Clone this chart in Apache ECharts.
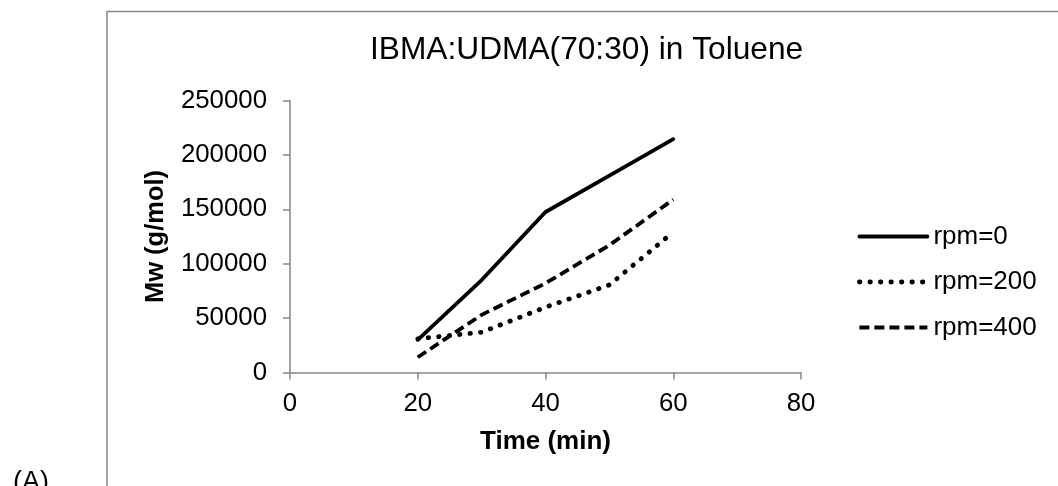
<!DOCTYPE html>
<html>
<head>
<meta charset="utf-8">
<title>IBMA:UDMA(70:30) in Toluene</title>
<script src="https://cdn.jsdelivr.net/npm/echarts@6/dist/echarts.min.js"></script>
<style>
  html, body { margin: 0; padding: 0; background: #ffffff; }
  #chart { width: 1058px; height: 486px; }
</style>
</head>
<body>
<div id="chart"></div>
<script>
// Sampling times (min)
const times = [20, 30, 40, 50, 60];
// Weight-average molecular weight Mw (g/mol) per stirring speed
const rpm0 = [30000, 85000, 147500, 181000, 214500];
const rpm200 = [31000, 37000, 60000, 80500, 129000];
const rpm400 = [14000, 53000, 82000, 117000, 159000];
const seriesNames = ['rpm=0', 'rpm=200', 'rpm=400'];

const FONT = 'Liberation Sans, Arial, Helvetica, sans-serif';
const GREY = '#868686';

function pairs(values) {
  return times.map((t, i) => [t, values[i]]);
}

const chart = echarts.init(document.getElementById('chart'), null, { renderer: 'canvas' });

chart.setOption({
  animation: false,
  backgroundColor: '#ffffff',
  title: {
    text: 'IBMA:UDMA(70:30) in Toluene',
    left: 370,
    top: 34,
    padding: 0,
    textStyle: { fontFamily: FONT, fontSize: 31.7, fontWeight: 'normal', color: '#000000' }
  },
  legend: {
    orient: 'vertical',
    left: 857,
    top: 223.5,
    padding: 0,
    itemWidth: 68,
    itemHeight: 14,
    itemGap: 19.5,
    data: seriesNames,
    itemStyle: { opacity: 0 },
    lineStyle: { width: 'inherit' },
    textStyle: { fontFamily: FONT, fontSize: 26, color: '#000000', padding: [0, 0, 0, 1] }
  },
  grid: { left: 290, right: 257, top: 100.5, bottom: 113.5, containLabel: false },
  xAxis: {
    type: 'value',
    min: 0,
    max: 80,
    interval: 20,
    name: 'Time (min)',
    nameLocation: 'middle',
    nameGap: 56,
    nameTextStyle: { fontFamily: FONT, fontSize: 26, fontWeight: 'bold', color: '#000000' },
    axisLine: { show: true, lineStyle: { color: GREY, width: 1.5 } },
    axisTick: { show: true, length: 7, inside: false, lineStyle: { color: GREY, width: 1.5 } },
    axisLabel: { margin: 18, fontFamily: FONT, fontSize: 25.8, color: '#000000' },
    splitLine: { show: false }
  },
  yAxis: {
    type: 'value',
    min: 0,
    max: 250000,
    interval: 50000,
    name: 'Mw (g/mol)',
    nameLocation: 'middle',
    nameGap: 121,
    nameTextStyle: { fontFamily: FONT, fontSize: 25.5, fontWeight: 'bold', color: '#000000' },
    axisLine: { show: true, lineStyle: { color: GREY, width: 1.5 } },
    axisTick: { show: true, length: 7, inside: false, lineStyle: { color: GREY, width: 1.5 } },
    axisLabel: {
      margin: 23,
      fontFamily: FONT,
      fontSize: 25.8,
      color: '#000000',
      formatter: v => String(v)
    },
    splitLine: { show: false }
  },
  series: [
    {
      name: seriesNames[0],
      type: 'line',
      data: pairs(rpm0),
      symbol: 'none',
      lineStyle: { color: '#000000', width: 3.8, type: 'solid', join: 'round', cap: 'round' },
      itemStyle: { color: '#000000' }
    },
    {
      name: seriesNames[1],
      type: 'line',
      data: pairs(rpm200),
      symbol: 'none',
      lineStyle: { color: '#000000', width: 4.8, type: [0.5, 10], cap: 'round', join: 'round' },
      itemStyle: { color: '#000000' }
    },
    {
      name: seriesNames[2],
      type: 'line',
      data: pairs(rpm400),
      symbol: 'none',
      lineStyle: { color: '#000000', width: 3.8, type: [10, 5], cap: 'butt', join: 'round' },
      itemStyle: { color: '#000000' }
    }
  ],
  graphic: [
    {
      type: 'rect',
      silent: true,
      shape: { x: 107, y: 11.5, width: 1200, height: 700 },
      style: { fill: 'none', stroke: GREY, lineWidth: 1.5 }
    },
    {
      type: 'text',
      silent: true,
      left: 13,
      top: 469,
      style: { text: '(A)', fontFamily: FONT, fontSize: 27, fill: '#000000' }
    }
  ]
});
</script>
</body>
</html>
